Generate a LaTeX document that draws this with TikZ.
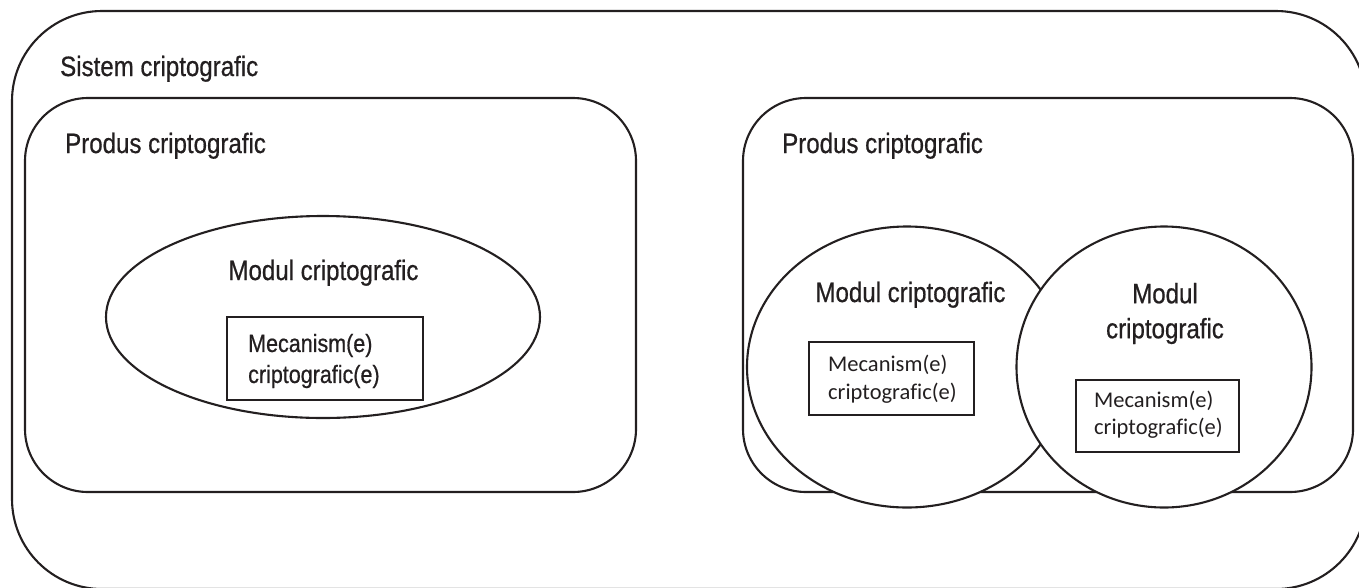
\documentclass[tikz,border=0pt]{standalone}
\usepackage{fontspec}
\setmainfont[FakeStretch=0.86,FakeBold=0.6]{Liberation Sans}
\newfontfamily\calfont[Ligatures=CommonOff]{Carlito}
\usetikzlibrary{shapes.geometric}
\definecolor{ink}{HTML}{231F20}
\begin{document}
\begin{tikzpicture}[x=1pt,y=-1pt,
    every node/.style={inner sep=0pt, text=ink},
    frame/.style={draw=ink, line width=2.1pt},
    prodbox/.style={frame, rectangle, rounded corners=63pt, minimum height=394pt},
    modshape/.style={frame, ellipse, fill=white},
    mecbox/.style={frame, rectangle, fill=white},
    title/.style={font=\fontsize{28}{35}\selectfont, anchor=base},
    meclabel/.style={align=left, anchor=west}]
            % Page
            \useasboundingbox (0,0) rectangle (1359,587);
            \clip (0,0) rectangle (1359,587);
            % Boxes
            \node[frame, rectangle, rounded corners=90pt, minimum width=1354pt, minimum height=578pt] (Sys) at (689,300) {};
            \node[prodbox, minimum width=611pt] (ProdL) at (330.5,295) {};
            \node[prodbox, minimum width=610pt] (ProdR) at (1048,295) {};
            % Modules
            \node[modshape, minimum width=434pt, minimum height=202pt] (ModL) at (323,317) {};
            \node[modshape, minimum width=320pt, minimum height=281pt] (ModA) at (907,367) {};
            \node[modshape, minimum width=295pt, minimum height=281pt] (ModB) at (1164,367) {};
            % Mechanisms
            \node[mecbox, minimum width=196pt, minimum height=83pt] (MecL) at (325,358.5) {};
            \node[mecbox, minimum width=165pt, minimum height=73pt] (MecA) at (891.5,378.5) {};
            \node[mecbox, minimum width=163pt, minimum height=72pt] (MecB) at (1157.5,416) {};
            % Labels
            \node[title, anchor=base west] (SysLbl) at (60,76) {Sistem criptografic};
            \node[title, anchor=base west] (ProdLLbl) at (65,153) {Produs criptografic};
            \node[title, anchor=base west] (ProdRLbl) at (782,153) {Produs criptografic};
            \node[title] (ModLLbl) at (323.5,280) {Modul criptografic};
            \node[title] (ModALbl) at (910.5,302) {Modul criptografic};
            \node[title, anchor=center, align=center] (ModBLbl) at (1165,313.5) {Modul\\criptografic};
            \node[meclabel, font=\fontsize{25}{31}\selectfont] (MecLLbl) at (248,361) {Mecanism(e)\\criptografic(e)};
            \node[meclabel, font=\calfont\fontsize{22.5}{28}\selectfont] (MecALbl) at (828,379.5) {Mecanism(e)\\criptografic(e)};
            \node[meclabel, font=\calfont\fontsize{22.5}{27}\selectfont] (MecBLbl) at (1094,415) {Mecanism(e)\\criptografic(e)};
\end{tikzpicture}
\end{document}
